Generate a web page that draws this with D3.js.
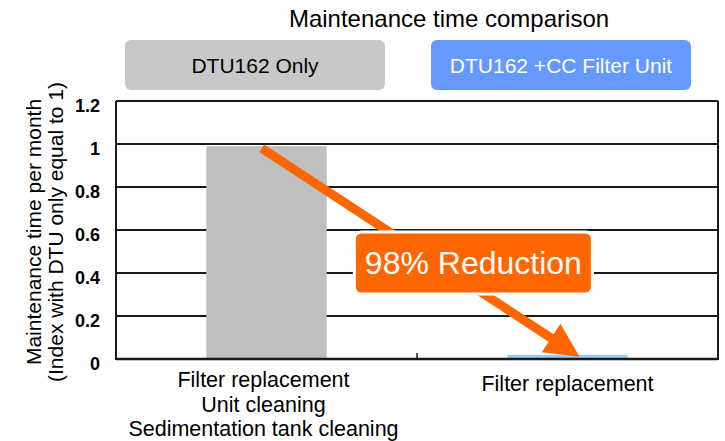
<!DOCTYPE html>
<html><head><meta charset="utf-8">
<script src="https://cdn.jsdelivr.net/npm/d3@7"></script>
<style>body{margin:0;background:#fff}svg{display:block}text{font-family:"Liberation Sans",Arial,sans-serif}</style>
</head><body><svg id="c" width="725" height="441"></svg>
<script>
const title = "Maintenance time comparison";
const categories = ["DTU162 Only", "DTU162 +CC Filter Unit"];
const values = [0.99, 0.02];
const xLabels = [["Filter replacement","Unit cleaning","Sedimentation tank cleaning"],["Filter replacement"]];
const yTicks = [0, 0.2, 0.4, 0.6, 0.8, 1, 1.2];
const yTitle = ["Maintenance time per month","(Index with DTU only equal to 1)"];
const annotation = "98% Reduction";
const barColors = ["#BFBFBF", "#99CCFF"];
const legendColors = ["#C8C8C8", "#6699FF"];
const legendText = ["#000", "#fff"];

const svg = d3.select("#c");
const L = 116, R = 718, T = 101, B = 359;
const x = d3.scaleBand().domain(categories).range([L, R]).paddingInner(0.6).paddingOuter(0.3);
const y = d3.scaleLinear().domain([0, 1.2]).range([B, T]);

svg.append("text").attr("x", 449).attr("y", 27).attr("text-anchor","middle")
  .attr("font-size", 24).text(title);

// legend
const lg = svg.append("g");
categories.forEach((c,i)=>{
  const lx = 125 + i*306;
  lg.append("rect").attr("x", lx).attr("y", 40).attr("width", 260).attr("height", 50).attr("rx", 6)
    .attr("fill", legendColors[i]);
  lg.append("text").attr("x", lx+130).attr("y", 73).attr("text-anchor","middle")
    .attr("font-size", 21).attr("fill", legendText[i]).text(c);
});

// gridlines
svg.append("g").selectAll("line").data(yTicks).join("line")
  .attr("x1", L).attr("x2", R).attr("y1", d=>y(d)).attr("y2", d=>y(d))
  .attr("stroke", "#1a1a1a").attr("stroke-width", 2);

// bars
svg.append("g").selectAll("rect").data(values).join("rect")
  .attr("x", (d,i)=>x(categories[i])).attr("width", x.bandwidth())
  .attr("y", d=>y(d)).attr("height", d=>y(0)-y(d))
  .attr("fill", (d,i)=>barColors[i]);

// frame
svg.append("line").attr("x1", L).attr("x2", L).attr("y1", T).attr("y2", B+1).attr("stroke","#1a1a1a").attr("stroke-width",2);
svg.append("line").attr("x1", R).attr("x2", R).attr("y1", T).attr("y2", B+1).attr("stroke","#1a1a1a").attr("stroke-width",2);
svg.append("line").attr("x1", L).attr("x2", R).attr("y1", B).attr("y2", B).attr("stroke","#1a1a1a").attr("stroke-width",2.5);
const mid = (x(categories[0]) + x.bandwidth() + x(categories[1]))/2;
svg.append("line").attr("x1", mid).attr("x2", mid).attr("y1", B-6).attr("y2", B).attr("stroke","#1a1a1a").attr("stroke-width",1.5);

// y ticks
svg.append("g").selectAll("text").data(yTicks).join("text")
  .attr("x", 100).attr("y", d=>y(d)+11).attr("text-anchor","end")
  .attr("font-size", 18).attr("font-weight","bold")
  .style("font-family", "'Liberation Sans Narrow','Arial Narrow','Liberation Sans',sans-serif")
  .text(d=>d===0?"0":d===1?"1":d.toFixed(1));

// y title
yTitle.forEach((t,i)=>{
  svg.append("text").attr("transform", `translate(${41+i*22},232) rotate(-90)`)
    .attr("text-anchor","middle").attr("font-size", 21).text(t);
});

// x labels
xLabels.forEach((lines,i)=>{
  const cx = x(categories[i]) + x.bandwidth()/2 - (i===0?3:0);
  lines.forEach((t,j)=>{
    svg.append("text").attr("x", cx).attr("y", (i===0?387:391) + j*24.5)
      .attr("text-anchor","middle").attr("font-size", 21.5).text(t);
  });
});

// arrow
const x0 = x(categories[0]) + x.bandwidth()*0.46, y0 = y(values[0]) + 2;
const x1 = x(categories[1]) + x.bandwidth()*0.6, y1 = y(values[1]) + 2;
const dx = x1-x0, dy = y1-y0, len = Math.hypot(dx,dy);
const ux = dx/len, uy = dy/len, px = -uy, py = ux;
const sw = 4.5, hl = 34, hw = 17;
const bx = x1 - ux*hl, by = y1 - uy*hl;
const pts = [
  [x0+px*sw, y0+py*sw], [bx+px*sw, by+py*sw], [bx+px*hw, by+py*hw], [x1, y1],
  [bx-px*hw, by-py*hw], [bx-px*sw, by-py*sw], [x0-px*sw, y0-py*sw]
];
svg.append("polygon").attr("points", pts.map(p=>p.join(",")).join(" ")).attr("fill", "#FF6600");

// annotation box
const bcx = x0 + dx*0.666, bcy = 263;
svg.append("rect").attr("x", bcx-119).attr("y", bcy-31).attr("width", 238).attr("height", 62).attr("rx", 7)
  .attr("fill", "#FF6600").attr("stroke", "#fff").attr("stroke-width", 3);
svg.append("text").attr("x", bcx).attr("y", bcy+11).attr("text-anchor","middle")
  .attr("font-size", 32).attr("fill", "#fff").text(annotation);
</script></body></html>
